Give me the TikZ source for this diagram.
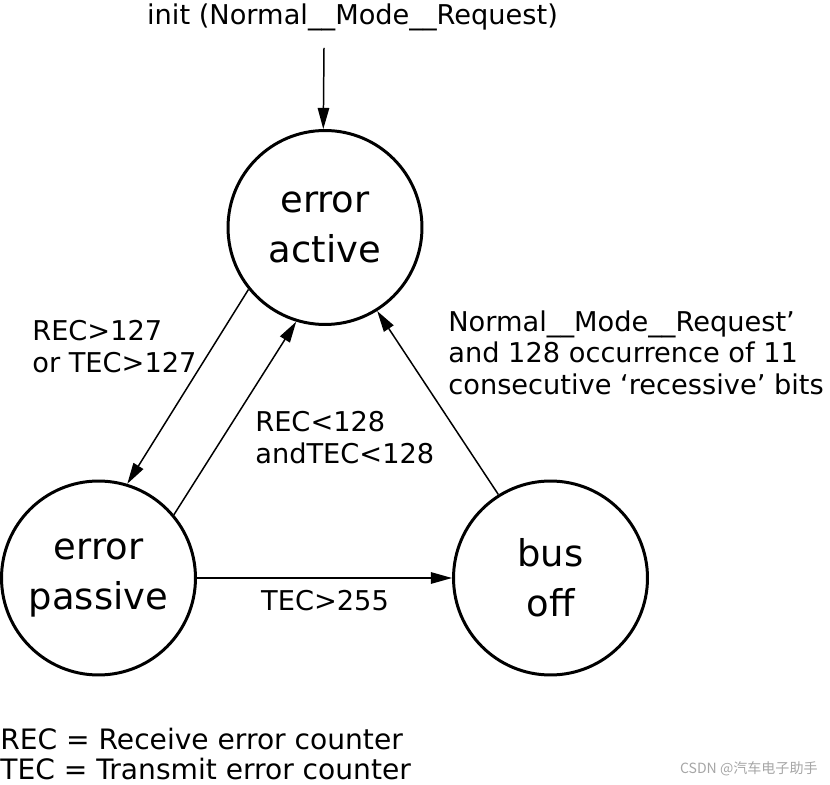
\documentclass[tikz,border=0pt]{standalone}
\usepackage{fontspec}
\setmainfont{DejaVu Sans}
\newfontfamily\cjk{Noto Sans CJK SC}
\usetikzlibrary{arrows.meta}
\begin{document}
\begin{tikzpicture}[x=0.02cm, y=0.02cm,
	state/.style={shape=circle, draw, line width=1.7pt, minimum size=3.88cm, inner sep=0pt, align=center, font=\fontsize{21}{28.5}\selectfont},
	wire/.style={-{Triangle[length=12pt, width=6.5pt]}, line width=0.85pt},
	lbl/.style={inner sep=0pt, align=left, font=\fontsize{15.5}{18}\selectfont}]
	% Frame:
	\useasboundingbox (0,0) rectangle (830,784);
	% States:
	\node[state] (active) at (325, 556.5){error\\active};
	\node[state] (passive) at (98.5, 206){error\\passive};
	\node[state] (busoff) at (550.5, 206){bus\\off};
	% Labels:
	\node[lbl, anchor=base] (initlbl) at (352.5, 759){init (Normal\_\_Mode\_\_Request)};
	\coordinate (initpt) at (324, 736);
	\node[lbl, anchor=north west] (uplbl) at (32, 464){REC>127\\or TEC>127};
	\node[lbl, anchor=north west] (downlbl) at (255, 373){REC<128\\andTEC<128};
	\node[lbl, anchor=north west] (recovlbl) at (448, 474){Normal\_\_Mode\_\_Request’\\and 128 occurrence of 11\\consecutive ‘recessive’ bits};
	\node[lbl, anchor=base] (offlbl) at (325, 174){TEC>255};
	\node[lbl, anchor=north west, font=\fontsize{16}{17}\selectfont] (legend) at (0, 56){REC = Receive error counter\\TEC = Transmit error counter};
	\node[anchor=base east, inner sep=0pt, text=gray!70, font=\cjk\fontsize{8}{8}\selectfont] (mark) at (818, 11){CSDN @汽车电子助手};
	% Transitions:
	\draw[wire] (initpt) -- (active.91);
	\draw[wire] (active.219.8) -- (passive.73.4);
	\draw[wire] (passive.40.1) -- (active.253.7);
	\draw[wire] (busoff.122.5) -- (active.302.7);
	\draw[wire] (passive.east) -- (busoff.west);
\end{tikzpicture}
\end{document}
